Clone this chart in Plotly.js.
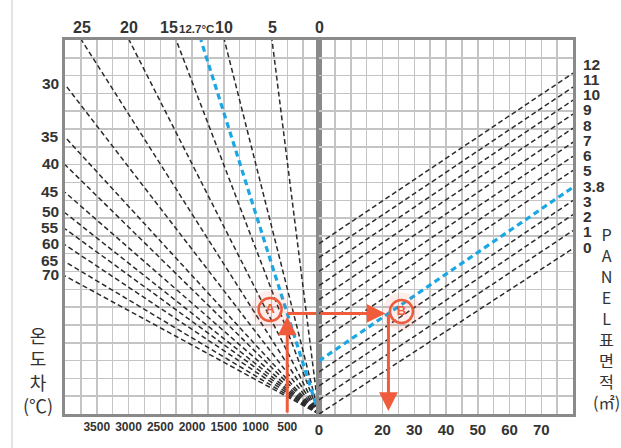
<!DOCTYPE html>
<html><head><meta charset="utf-8">
<script src="https://cdn.plot.ly/plotly-3.0.1.min.js"></script>
<style>html,body{margin:0;padding:0;background:#fff;} #chart{width:621px;height:448px;}</style>
</head><body><div id="chart"></div>
<script>
// ---- data ----
// Left quadrant: temperature-difference lines (°C) radiating from the origin
const dtTop = [25, 20, 15, 12.7, 10, 5];                 // lines that leave through the top edge
const dtTopQ = [3740, 2990, 2250, 1860, 1490, 740];       // heat value where each meets the top edge
const dtSide = [30, 35, 40, 45, 50, 55, 60, 65, 70];      // lines that leave through the left edge
const dtSideY = [18.5, 15.55, 14.0, 12.45, 11.3, 10.4, 9.5, 8.55, 7.75]; // height (grid rows) at left edge (4000)
// Right quadrant: panel surface area lines (m²)
const areaVals = [12, 11, 10, 9, 8, 7, 6, 5, 3.8, 3, 2, 1, 0];
const areaStartY = [9.57, 8.78, 8.0, 7.21, 6.42, 5.63, 4.84, 4.05, 2.98, 2.36, 1.58, 0.79, 0];
const areaEndY = [19.14, 18.36, 17.62, 16.84, 16.05, 15.26, 14.47, 13.68, 12.73, 11.99, 11.2, 10.3, 9.29];
// Axis tick labels
const heatTicks = [3500, 3000, 2500, 2000, 1500, 1000, 500];
const rightTicks = [0, 20, 30, 40, 50, 60, 70];
// Worked example
const exampleQ = 500, exampleDT = 12.7, exampleArea = 3.8;
const Q_MAX = 4000, X2_MAX = 80, Y_MAX = 21;

// ---- styles ----
const black = '#2b2b2b', blue = '#1aa7e4', red = '#ef5b3b';
const gridC = '#c4c4c4', frameC = '#8a8a8a';
const wide = "'Liberation Sans', Arial, sans-serif";
const kr = "'Noto Sans CJK KR', 'Noto Sans', sans-serif";

const traces = [];
const blueTraces = [];
function addLine(xs, ys, xa, ya, isBlue) {
  const t = {type: 'scatter', mode: 'lines', x: xs, y: ys, xaxis: xa, yaxis: ya,
    hoverinfo: 'skip',
    line: isBlue ? {color: blue, width: 3.2, dash: '6px,4px'} : {color: black, width: 1.5, dash: '5px,3px'}};
  (isBlue ? blueTraces : traces).push(t);
}
dtTop.forEach((dt, i) => addLine([0, dtTopQ[i]], [0, Y_MAX], 'x', 'y', dt === exampleDT));
dtSide.forEach((dt, i) => addLine([0, Q_MAX], [0, dtSideY[i]], 'x', 'y', false));
areaVals.forEach((a, i) => addLine([0, X2_MAX], [areaStartY[i], areaEndY[i]], 'x2', 'y2', a === exampleArea));

// example path
const iDT = dtTop.indexOf(exampleDT);
const yA = exampleQ / dtTopQ[iDT] * Y_MAX;
const iA = areaVals.indexOf(exampleArea);
const result = (yA - areaStartY[iA]) / (areaEndY[iA] - areaStartY[iA]) * X2_MAX;

const all = traces.concat(blueTraces);
all.push({type: 'scatter', mode: 'lines', x: [exampleQ, 0], y: [yA, yA], xaxis: 'x', yaxis: 'y',
  line: {color: red, width: 3}, hoverinfo: 'skip'});
// circled labels A and B (glow + ring)
const circA = {x: exampleQ + 270, y: yA + 0.22};
const circB = {x: result + 4.1, y: yA + 0.11};
[[circA, 'x', 'y', 'A'], [circB, 'x2', 'y2', 'B']].forEach(([c, xa, ya, lab]) => {
  all.push({type: 'scatter', mode: 'markers', x: [c.x], y: [c.y], xaxis: xa, yaxis: ya, hoverinfo: 'skip',
    marker: {symbol: 'circle', size: 38, color: 'rgba(239,91,59,0.10)'}});
  all.push({type: 'scatter', mode: 'markers+text', x: [c.x], y: [c.y], xaxis: xa, yaxis: ya, hoverinfo: 'skip',
    text: [lab], textposition: 'middle center', textfont: {family: wide, size: 13, color: red, weight: 700},
    marker: {symbol: 'circle-open', size: 23, color: red, line: {width: 2.5, color: red}}});
});

const annotations = [];
const arrowBase = {showarrow: true, arrowhead: 2, arrowsize: 1.25, arrowwidth: 3, arrowcolor: red, text: ''};
annotations.push(Object.assign({}, arrowBase, {x: exampleQ, y: yA, ax: exampleQ, ay: 0, xref: 'x', yref: 'y', axref: 'x', ayref: 'y', standoff: 3}));
annotations.push(Object.assign({}, arrowBase, {x: result, y: yA, ax: 0, ay: yA, xref: 'x2', yref: 'y2', axref: 'x2', ayref: 'y2', standoff: 3}));
annotations.push(Object.assign({}, arrowBase, {x: result, y: 0, ax: result, ay: yA, xref: 'x2', yref: 'y2', axref: 'x2', ayref: 'y2', standoff: 3}));

// top labels
const topShift = {15: -7, 12.7: -4};
dtTop.forEach((dt, i) => {
  const isEx = dt === exampleDT;
  annotations.push({x: dtTopQ[i], y: Y_MAX, xref: 'x', yref: 'y', showarrow: false, xanchor: 'center', yanchor: 'bottom', yshift: isEx ? 3 : 2,
    xshift: topShift[dt] || 0,
    text: isEx ? dt + '°C' : String(dt),
    font: {family: wide, size: isEx ? 11.5 : 16, color: '#333', weight: 700}});
});
annotations.push({x: 0, y: Y_MAX, xref: 'x', yref: 'y', showarrow: false, xanchor: 'center', yanchor: 'bottom', yshift: 2,
  text: '0', font: {family: wide, size: 16, color: '#333', weight: 700}});
// left labels
dtSide.forEach((dt, i) => {
  annotations.push({x: Q_MAX, y: dtSideY[i], xref: 'x', yref: 'y', showarrow: false, xanchor: 'right', yanchor: 'middle', xshift: -4, yshift: 1,
    text: String(dt), font: {family: wide, size: 15.5, color: '#333', weight: 700}});
});
// right labels (column)
const plotTop = 40, plotH = 374, plotL = 65, plotW = 508;
const py2paper = py => (plotTop + plotH - py) / plotH;
const px2paper = px => (px - plotL) / plotW;
areaVals.forEach((a, i) => {
  const py = 64 + i * 15.25;
  annotations.push({x: 1, y: py2paper(py), xref: 'paper', yref: 'paper', showarrow: false,
    xanchor: 'left', yanchor: 'middle', xshift: 8, text: String(a), font: {family: wide, size: 15.5, color: '#333', weight: 700}});
});
// vertical titles (one stacked text each)
const rightTitle = ['P', 'A', 'N', 'E', 'L', '표', '면', '적', '(㎡)'];
annotations.push({x: px2paper(606), y: py2paper(318), xref: 'paper', yref: 'paper', showarrow: false,
  xanchor: 'center', yanchor: 'middle', text: rightTitle.join('<br>'), font: {family: kr, size: 16.2, color: '#333'}});
const leftTitle = ['온', '도', '차', '(℃)'];
annotations.push({x: px2paper(38), y: py2paper(370), xref: 'paper', yref: 'paper', showarrow: false,
  xanchor: 'center', yanchor: 'middle', text: leftTitle.join('<br>'), font: {family: kr, size: 18, color: '#333'}});

const yCommon = {range: [0, Y_MAX], dtick: 1, tick0: 0, showticklabels: false, showgrid: true, gridcolor: gridC, gridwidth: 1.5,
  showline: true, mirror: true, linecolor: frameC, linewidth: 3, zeroline: false, ticks: '', fixedrange: true};
const layout = {
  width: 621, height: 448,
  margin: {l: plotL, r: 621 - plotL - plotW, t: plotTop, b: 448 - plotTop - plotH, pad: 0},
  paper_bgcolor: '#fff', plot_bgcolor: '#fff', showlegend: false,
  xaxis: {domain: [0, 0.5], range: [Q_MAX, 0], tickmode: 'array', tickvals: heatTicks, ticktext: heatTicks.map(String),
    tickangle: 0, showgrid: true, gridcolor: gridC, gridwidth: 1.5,
    minor: {tickmode: 'linear', tick0: 0, dtick: 250, showgrid: true, gridcolor: gridC, gridwidth: 1.5, ticks: ''},
    showline: true, mirror: true, linecolor: frameC, linewidth: 3, zeroline: false, ticks: '', anchor: 'y',
    tickfont: {family: wide, size: 12, color: '#333', weight: 700}, fixedrange: true},
  xaxis2: {domain: [0.5, 1], range: [0, X2_MAX], tickmode: 'array', tickvals: rightTicks, ticktext: rightTicks.map(String),
    tickangle: 0, showgrid: true, gridcolor: gridC, gridwidth: 1.5,
    minor: {tickmode: 'linear', tick0: 0, dtick: 5, showgrid: true, gridcolor: gridC, gridwidth: 1.5, ticks: ''},
    showline: true, mirror: true, linecolor: frameC, linewidth: 3, zeroline: false, ticks: '', anchor: 'y2',
    tickfont: {family: wide, size: 15, color: '#333', weight: 700}, fixedrange: true},
  yaxis: Object.assign({anchor: 'x', domain: [0, 1]}, yCommon),
  yaxis2: Object.assign({anchor: 'x2', domain: [0, 1], matches: 'y'}, yCommon),
  annotations: annotations,
  shapes: [{type: 'line', xref: 'paper', yref: 'paper', x0: px2paper(12), x1: px2paper(12), y0: -0.1, y1: 1.12,
    line: {color: '#e4e4e4', width: 2}}]
};
Plotly.newPlot('chart', all, layout, {displayModeBar: false, staticPlot: true});
</script></body></html>
